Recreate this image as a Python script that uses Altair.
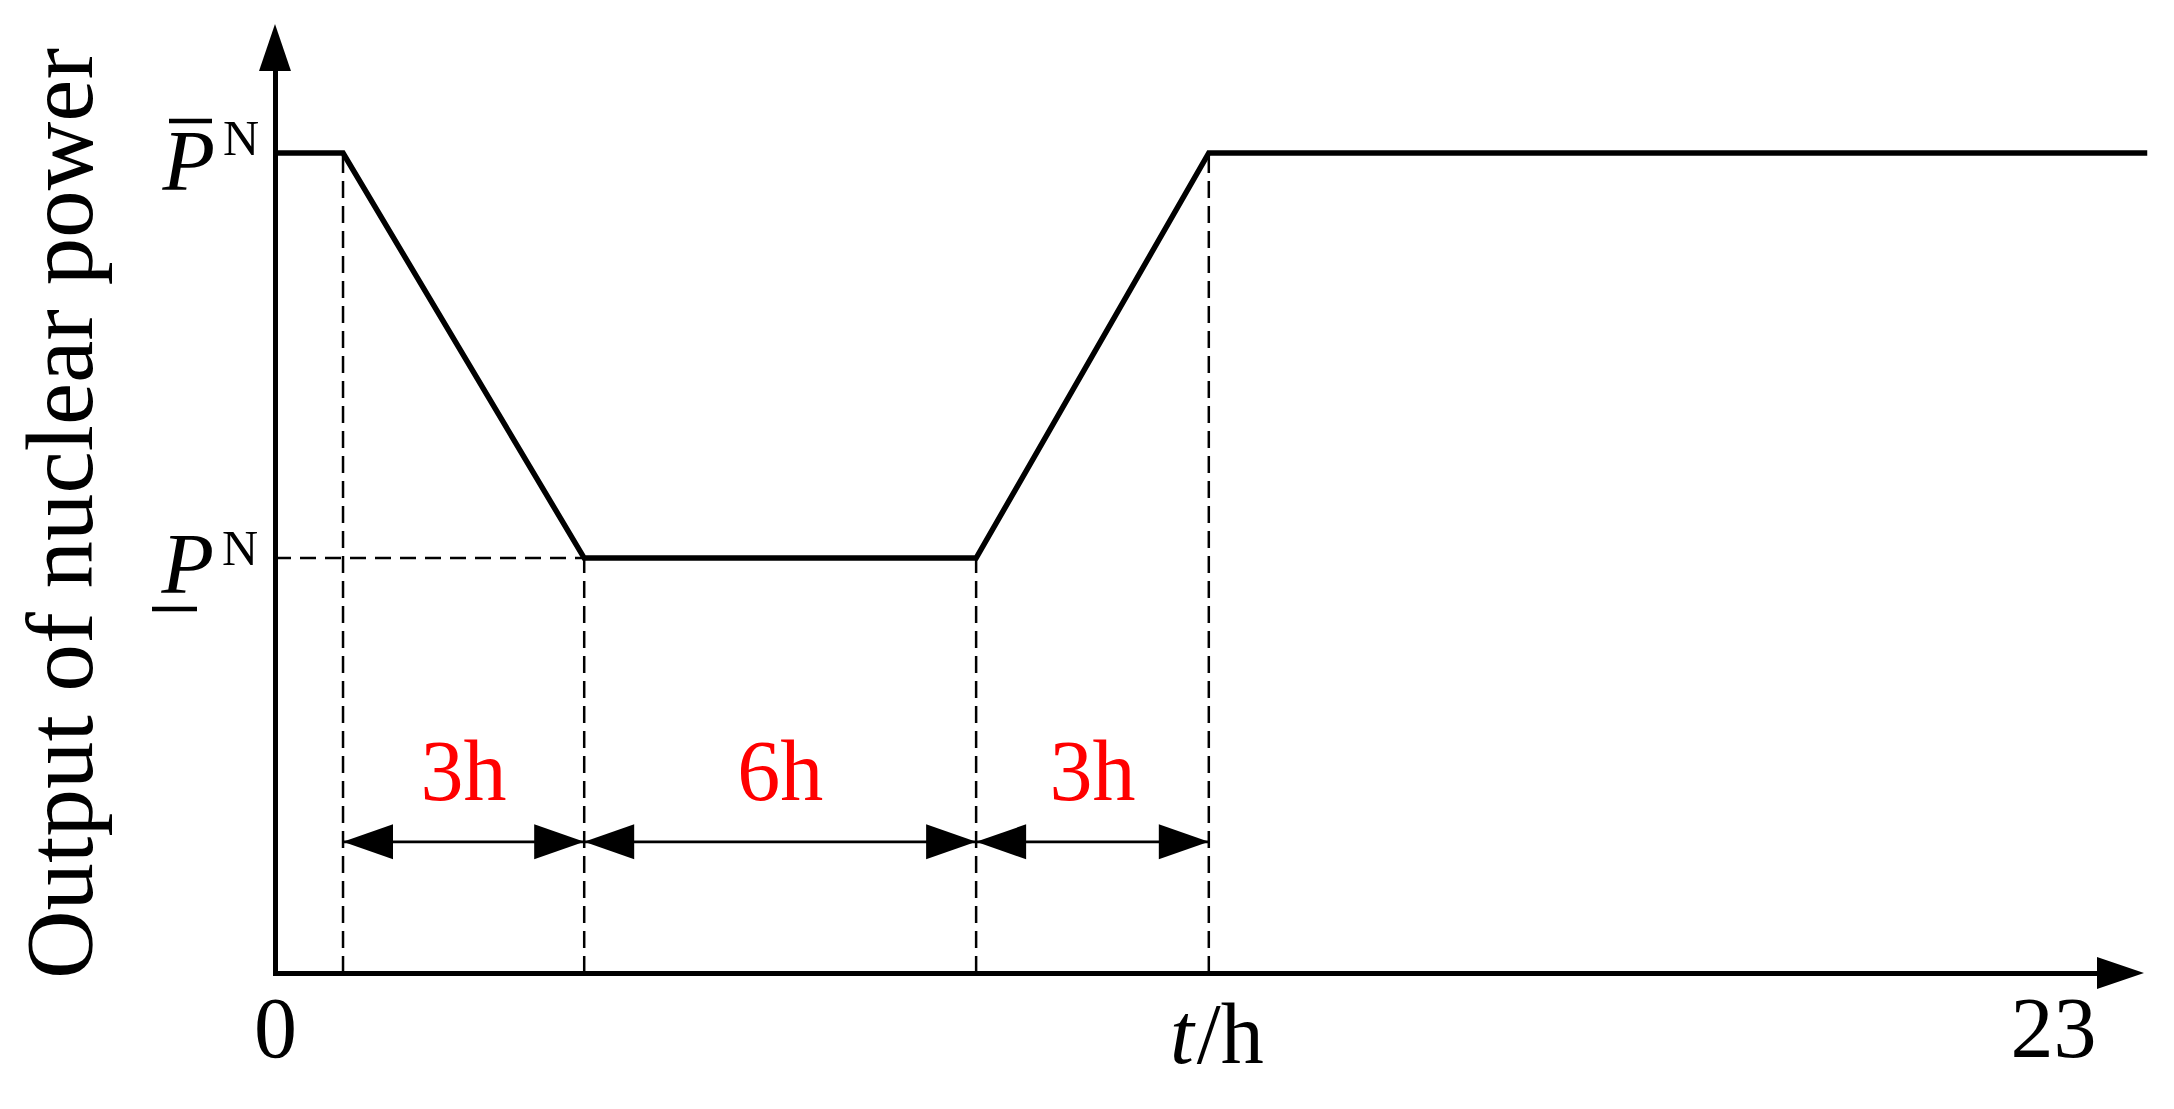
import altair as alt
import pandas as pd

SERIF = "Liberation Serif"

# ---- schematic output profile of the nuclear unit ----
t_profile = [0, 0.88, 4.0, 9.07, 12.08, 24.22]
p_profile = [1.0, 1.0, 0.506, 0.506, 1.0, 1.0]

P_MAX = 1.0      # upper output bound  (P-bar N)
P_MIN = 0.506    # lower output bound  (P-underbar N)

# dashed guide lines (time, output level reached)
t_guides = [0.88, 4.0, 9.07, 12.08]
p_guides = [1.0, 0.506, 0.506, 1.0]

# duration spans
span_start = [0.88, 4.0, 9.07]
span_end = [4.0, 9.07, 12.08]
span_labels = ["3h", "6h", "3h"]
ARROW_LEVEL = 0.16

# axes
x_tick_values = [0, 23]
X_MAX = 23.57
Y_MAX = 1.1
Y_TITLE = "Output of nuclear power"

RIGHT_HEAD = "M0,-0.68L2,0L0,0.68Z"
UP_HEAD = "M-0.68,0L0,-2L0.68,0Z"
LEFT_TIP = "M0,0L2,-0.7L2,0.7Z"
RIGHT_TIP = "M0,0L-2,-0.7L-2,0.7Z"

x_scale = alt.Scale(domain=[0, X_MAX], nice=False, zero=False)
y_scale = alt.Scale(domain=[0, Y_MAX], nice=False, zero=False)

x_axis = alt.Axis(values=x_tick_values, title=None, domain=True, domainColor="black",
                  domainWidth=5, domainCap="butt", ticks=False, tickSize=0, grid=False,
                  labelFont=SERIF, labelFontSize=86, labelColor="black",
                  labelBaseline="alphabetic", labelPadding=83, labelFlush=False,
                  labelOverlap=False, labelBound=False, format="d")
y_axis = alt.Axis(title=Y_TITLE, domain=True, domainColor="black", domainWidth=5,
                  domainCap="square", ticks=False, tickSize=0, labels=False, grid=False,
                  titleFont=SERIF, titleFontSize=95, titleFontWeight="normal",
                  titleColor="black", titleAngle=270, titleAlign="center",
                  titleBaseline="alphabetic", titleX=-183.5, titleY=442)

XE = alt.X("x:Q", scale=x_scale, axis=x_axis)
YE = alt.Y("y:Q", scale=y_scale, axis=y_axis)

# profile line
profile_df = pd.DataFrame({"x": t_profile, "y": p_profile})
profile = alt.Chart(profile_df).mark_line(color="black", strokeWidth=5.5,
                                          strokeJoin="miter").encode(x=XE, y=YE)

# dashed verticals
vdash_df = pd.DataFrame({"x": t_guides, "y": [0] * len(t_guides), "y2": p_guides})
vdash = alt.Chart(vdash_df).mark_rule(color="black", strokeWidth=2.5,
                                      strokeDash=[17, 8]).encode(x=XE, y=YE, y2="y2:Q")
# dashed horizontal at lower bound
hdash_df = pd.DataFrame({"x": [0], "x2": [span_start[1]], "y": [P_MIN]})
hdash = alt.Chart(hdash_df).mark_rule(color="black", strokeWidth=2.5,
                                      strokeDash=[16, 9]).encode(x=XE, x2="x2:Q", y=YE)

# dimension arrows
span_df = pd.DataFrame({"x": span_start, "x2": span_end,
                        "y": [ARROW_LEVEL] * len(span_start),
                        "mid": [(a + b) / 2 for a, b in zip(span_start, span_end)],
                        "label": span_labels})
span_lines = alt.Chart(span_df).mark_rule(color="black", strokeWidth=2.7).encode(
    x=XE, x2="x2:Q", y=YE)
heads_df = pd.DataFrame({
    "x": span_start + span_end,
    "y": [ARROW_LEVEL] * (2 * len(span_start)),
    "shape": [LEFT_TIP] * len(span_start) + [RIGHT_TIP] * len(span_end),
})
span_heads = alt.Chart(heads_df).mark_point(filled=True, opacity=1, color="black",
                                            strokeWidth=0, size=2500).encode(
    x=XE, y=YE, shape=alt.Shape("shape:N", scale=None, legend=None))
span_text = alt.Chart(span_df).mark_text(font=SERIF, fontSize=86, color="#ff0000",
                                         align="center", baseline="alphabetic",
                                         dy=-42).encode(
    x=alt.X("mid:Q", scale=x_scale, axis=x_axis), y=YE, text="label:N")

# axis arrow heads
axis_heads_df = pd.DataFrame({"x": [X_MAX, 0], "y": [0, Y_MAX],
                              "shape": [RIGHT_HEAD, UP_HEAD]})
axis_heads = alt.Chart(axis_heads_df).mark_point(filled=True, opacity=1, color="black",
                                                 strokeWidth=0, size=2209).encode(
    x=XE, y=YE, shape=alt.Shape("shape:N", scale=None, legend=None))


def label(xv, yv, text, dx, dy, size, align="right", style="normal"):
    df = pd.DataFrame({"x": [xv], "y": [yv]})
    return alt.Chart(df).mark_text(text=text, dx=dx, dy=dy, fontSize=size, font=SERIF,
                                   fontStyle=style, align=align, baseline="alphabetic",
                                   color="black").encode(x=XE, y=YE)


def bar(yv, x_off, x2_off, y_off):
    # over-/under-bar of the P symbol, anchored on the y axis at the bound level
    df = pd.DataFrame({"x": [0], "x2": [0], "y": [yv], "y2": [yv]})
    return alt.Chart(df).mark_rule(color="black", strokeWidth=4.5, xOffset=x_off,
                                   x2Offset=x2_off, yOffset=y_off,
                                   y2Offset=y_off).encode(
        x=XE, x2="x2:Q", y=YE, y2="y2:Q")


labels = [
    label(0, P_MAX, "P", -60, 37, 86, style="italic"),
    label(0, P_MAX, "N", -16, 2, 50),
    bar(P_MAX, -106, -63, -32),
    label(0, P_MIN, "P", -61, 35, 86, style="italic"),
    label(0, P_MIN, "N", -17, 7, 50),
    bar(P_MIN, -123, -78, 51),
    label(t_guides[-1], 0, "t", -15, 90, 86, style="italic"),
    label(t_guides[-1], 0, "/h", -12, 90, 86, align="left"),
]

chart = alt.layer(
    vdash, hdash, profile, span_lines, span_heads, span_text, axis_heads, *labels
).properties(
    width=1822, height=902,
    padding={"left": 267, "top": 63, "right": 60, "bottom": 110},
    autosize=alt.AutoSizeParams(type="none"),
).configure_view(stroke=None)

chart.save("out.html", embed_options={"renderer": "svg", "actions": False})
